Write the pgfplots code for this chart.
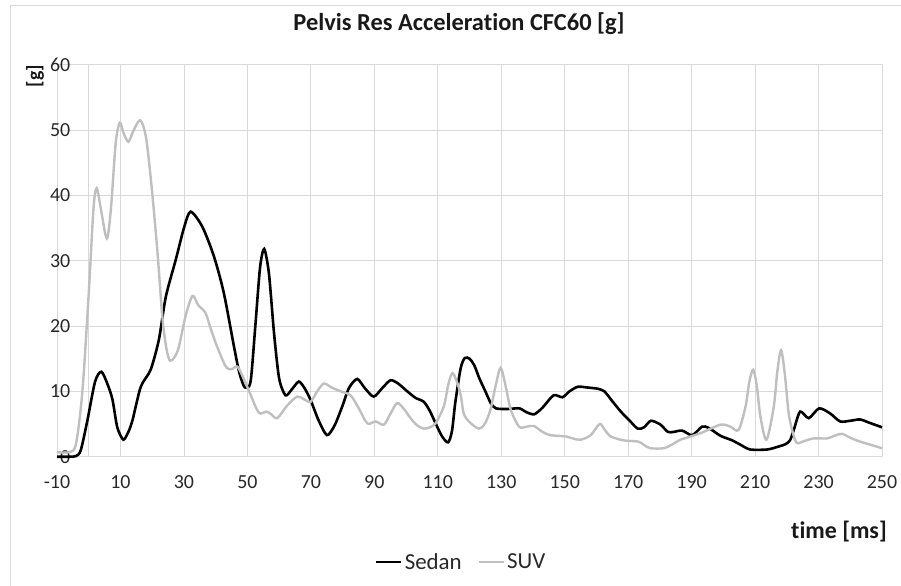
\documentclass[border=0pt]{standalone}
\usepackage{pgfplots}
\pgfplotsset{compat=1.18}
\usepackage{fontspec}
\setmainfont{Carlito}[RawFeature={-liga}]
\definecolor{suvgray}{RGB}{191,191,191}
\definecolor{gridgray}{RGB}{217,217,217}
\definecolor{ticktext}{RGB}{40,40,40}
\begin{document}
\begin{tikzpicture}
\begin{axis}[
  scale only axis,
  width=825bp, height=392bp,
  xmin=-10, xmax=250, ymin=0, ymax=60,
  xtick={-10,10,...,250},
  extra x ticks={0},
  extra x tick labels={},
  extra x tick style={grid=major},
  ytick={0,10,...,60},
  grid=major,
  major grid style={gridgray, line width=0.8bp},
  axis line style={gridgray, line width=0.8bp},
  major tick length=0pt,
  /pgf/number format/assume math mode=true,
  tick label style={font=\fontsize{20}{23}\selectfont, text=ticktext},
  xticklabel style={anchor=north, inner sep=0pt, yshift=-19bp},
  yticklabel style={anchor=east, inner sep=0pt, xshift=13.5bp},
  title={\bfseries Pelvis Res Acceleration CFC60 [g]},
  title style={font=\fontsize{24.5}{28}\selectfont, text=black!90, at={(axis description cs:0.4873,1)}, anchor=center, yshift=34.7bp},
  xlabel={\bfseries time [ms]},
  xlabel style={font=\fontsize{24}{27}\selectfont, text=black!90, at={(axis description cs:1,0)}, anchor=east, inner sep=0pt, xshift=5bp, yshift=-74.8bp},
  ylabel={\bfseries [g]},
  ylabel style={font=\fontsize{20}{23}\selectfont, text=black!90, at={(axis description cs:0,1)}, anchor=center, inner sep=0pt, xshift=-11.3bp, yshift=22bp},
  legend style={at={(axis description cs:0.49,-0.2686)}, anchor=center, draw=none, fill=none, legend columns=2, font=\fontsize{23}{26}\selectfont, text=ticktext, inner sep=0pt, /tikz/every even column/.append style={column sep=14bp}},
  legend cell align=left,
  legend image code/.code={\draw[#1] (0bp,0bp) -- (25bp,0bp);},
  clip=false,
]
\addplot[black, line width=2.6bp, smooth, tension=0.45] coordinates {
(-10,0) (-6,0) (-4,0.1) (-2.5,1) (-0.4,5.6) (2,11.5) (4,13) (6,11) (7.5,8.7) (9,4.5) (10.9,2.6) (12.5,3.8) (13.8,5.6) (16.4,10.7) (19.5,13.3) (22.1,17.9) (24.3,24.5) (27.4,30.1) (30,35) (32.1,37.5) (35.8,35.2) (39.5,30.6) (42.6,25.0) (45.8,16.8) (47.5,12.8) (49.2,10.6) (51,11.5) (52.5,20) (54,29) (55.3,31.8) (56.8,28) (58.4,18.9) (60,12) (62,9.4) (64,10.3) (66.2,11.5) (68,10.5) (69.9,8.7) (72.5,5.5) (75.1,3.3) (77.5,4.8) (79.9,7.7) (82,10.5) (84.6,11.9) (87,10.5) (89.8,9.2) (92.5,10.5) (95.1,11.7) (97.5,11.2) (100.4,10.0) (103,9) (105.6,8.4) (107.5,7) (109.8,4.6) (111.5,3) (113.3,2.2) (114.5,4) (115.5,8.2) (117.2,13.5) (118.5,15.1) (120,15) (121.5,14) (123.1,12.0) (125,10) (126.7,8.2) (128.3,7.4) (132,7.3) (135.7,7.4) (138,6.8) (140.4,6.5) (143,7.5) (146.5,9.4) (149.3,9.1) (151.5,10) (154.1,10.7) (157,10.6) (160.4,10.4) (162.5,10.0) (165,8.5) (167.7,6.9) (170.5,5.5) (173,4.3) (175,4.5) (177.2,5.5) (180.2,4.9) (182.5,3.8) (184.4,3.8) (187,4.0) (190.2,3.3) (193.3,4.6) (195.4,4.4) (199.1,3.2) (202.8,2.5) (205.5,1.8) (208.5,1.1) (213.8,1.1) (217,1.5) (219.5,1.9) (221,2.5) (222.2,4.1) (224.2,6.9) (226.9,5.9) (230.2,7.4) (233.7,6.6) (236.8,5.4) (240,5.5) (243.1,5.7) (246,5.2) (250,4.5)
};
\addlegendentry{Sedan}
\addplot[suvgray, line width=2.4bp, smooth, tension=0.5] coordinates {
(-10,0.7) (-6,0.7) (-4,2) (-2,10) (0,25) (1.5,38) (2.5,41.1) (3.8,38) (5.7,33.4) (7,38) (8.5,48) (9.8,51.1) (11,49.5) (12.5,48.2) (14,49.8) (16.2,51.5) (18,49) (19.7,41.9) (21.6,31.7) (23.2,21.4) (24.5,16.5) (25.6,14.7) (27,15.2) (28.4,16.8) (30.5,21.5) (32.7,24.6) (34.5,23.2) (36.8,22.0) (38.5,19.5) (40.5,16.8) (43.2,13.8) (45,13.4) (46.8,13.8) (48.5,12.3) (51,9.5) (53,7.2) (54.2,6.6) (56,6.9) (57.5,6.5) (59.4,5.9) (62.5,7.8) (65.7,9.2) (67.8,8.8) (69.9,8.4) (72,10) (74.1,11.2) (76.5,10.6) (79.4,10.0) (82.5,9.4) (85,7.5) (87.8,5.1) (90.4,5.4) (93,4.9) (95,6.5) (97.2,8.2) (99.5,7.2) (101.4,5.9) (103.5,4.8) (105.6,4.3) (107.5,4.5) (109.3,5.1) (111.9,7.7) (113.3,11) (114.6,12.8) (116,11.5) (117.2,9.5) (118.2,6.6) (120,5.3) (122.9,4.3) (124.8,5.0) (126.6,7.2) (128.3,11) (129.8,13.6) (131.3,11) (133,7.2) (135.6,4.6) (138,4.6) (140.3,4.7) (143,3.8) (145.5,3.3) (150.3,3.1) (152.5,2.8) (155,2.6) (158.2,3.3) (161,5.0) (162.5,4.2) (164.5,3.1) (168.6,2.5) (173.3,2.3) (175,1.8) (177,1.3) (181.2,1.3) (184,1.9) (186.5,2.6) (192.8,3.6) (199.1,4.9) (202.2,4.6) (204.8,4.1) (207,7.7) (208.2,11.5) (209.4,13.3) (210.5,11) (211.7,6.1) (213.6,2.6) (215.9,7.7) (217,13) (218.2,16.3) (219.4,12.5) (220.6,6.6) (222,3.5) (223.2,2.1) (225.5,2.4) (228.5,2.8) (232.7,2.8) (235,3.2) (237.4,3.5) (240,2.9) (243.2,2.3) (250,1.3)
};
\addlegendentry{SUV}
\end{axis}
\draw[gridgray, line width=0.8bp] (-47bp,-129.3bp) -- (-47bp,451.7bp) -- (844bp,451.7bp);
\pgfresetboundingbox
\path[use as bounding box] (-57bp,-129.3bp) rectangle (844bp,456.7bp);
\end{tikzpicture}
\end{document}
